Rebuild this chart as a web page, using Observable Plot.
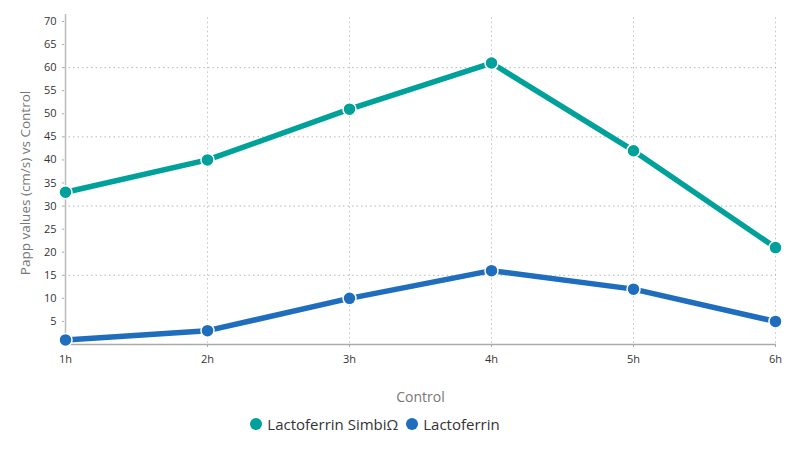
<!DOCTYPE html>
<html>
<head>
<meta charset="utf-8">
<script src="https://cdn.jsdelivr.net/npm/d3@7"></script>
<script src="https://cdn.jsdelivr.net/npm/@observablehq/plot@0.6"></script>
<style>
  html, body { margin: 0; padding: 0; background: #fff; }
  body { width: 800px; height: 450px; overflow: hidden; font-family: "Open Sans", sans-serif; }
  #legend { display: flex; justify-content: center; gap: 8px; font-size: 15px; color: #333; margin-left: -50px; margin-top: 4px; }
  #legend span { display: inline-flex; align-items: center; }
  #legend i { display: inline-block; width: 12px; height: 12px; border-radius: 50%; margin-right: 5px; }
</style>
</head>
<body>
<div id="chart"></div>
<div id="legend"></div>
<script>
const hours = ["1h", "2h", "3h", "4h", "5h", "6h"];
const seriesNames = ["Lactoferrin SimbiΩ", "Lactoferrin"];
const simbiValues = [33, 40, 51, 61, 42, 21];
const lactoValues = [1, 3, 10, 16, 12, 5];
const colors = ["#00a19a", "#1f6dbd"];
const yTicks = [5, 10, 15, 20, 25, 30, 35, 40, 45, 50, 55, 60, 65, 70];
const yGrid = [15, 30, 45, 60];

const data = [
  ...hours.map((h, i) => ({ hour: h, value: simbiValues[i], series: seriesNames[0] })),
  ...hours.map((h, i) => ({ hour: h, value: lactoValues[i], series: seriesNames[1] }))
];

const chart = Plot.plot({
  width: 800,
  height: 410,
  marginTop: 21,
  marginLeft: 64,
  marginRight: 24,
  marginBottom: 66,
  style: { fontFamily: "Open Sans, sans-serif", fontSize: "11px", color: "#333", background: "#fff" },
  x: { type: "point", domain: hours, padding: 0 },
  y: { domain: [0, 70] },
  color: { domain: seriesNames, range: colors },
  marks: [
    Plot.gridX(hours, { x: d => d, y1: 70.8, y2: 0, stroke: "#aaa", strokeOpacity: 0.7, strokeDasharray: "1.5,3" }),
    Plot.gridY(yGrid, { stroke: "#999", strokeOpacity: 0.7, strokeDasharray: "1.5,3" }),
    Plot.axisY({ ticks: yTicks, tickSize: 2, tickPadding: 6, fontSize: 11, fill: "#333", stroke: "#aaa", label: null }),
    Plot.axisX({ tickSize: 3, tickPadding: 8, fontSize: 11, fill: "#333", stroke: "#aaa", label: null }),
    Plot.text(["Papp values (cm/s) vs Control"], { frameAnchor: "left", textAnchor: "middle", dx: -39, rotate: -90, text: d => d, fill: "#777", fontSize: 13.5 }),
    Plot.text(["Control"], { frameAnchor: "bottom", textAnchor: "middle", dy: 57, text: d => d, fill: "#777", fontSize: 14 }),
    Plot.ruleY([0], { stroke: "#aaa", strokeWidth: 1.5 }),
    Plot.ruleX([hours[0]], { y1: 0, y2: 71.5, stroke: "#bbb", strokeWidth: 1.5 }),
    Plot.line(data, { x: "hour", y: "value", z: "series", stroke: "series", strokeWidth: 5.5, curve: "linear" }),
    Plot.dot(data, { x: "hour", y: "value", fill: "series", r: 6.5, stroke: "#fff", strokeWidth: 1.5 })
  ],
  axis: null
});
document.getElementById("chart").appendChild(chart);

const legend = document.getElementById("legend");
seriesNames.forEach((name, i) => {
  const s = document.createElement("span");
  const dot = document.createElement("i");
  dot.style.background = colors[i];
  s.appendChild(dot);
  s.appendChild(document.createTextNode(name));
  legend.appendChild(s);
});
</script>
</body>
</html>
